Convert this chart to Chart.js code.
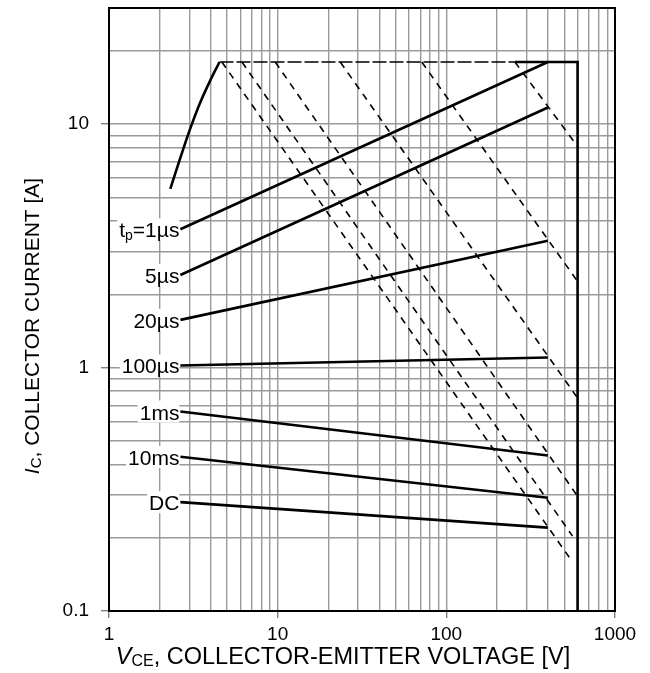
<!DOCTYPE html>
<html>
<head>
<meta charset="utf-8">
<script src="https://cdn.jsdelivr.net/npm/chart.js@4.4.1/dist/chart.umd.min.js"></script>
<style>
  html, body { margin: 0; padding: 0; background: #fff; }
  #wrap { width: 650px; height: 673px; }
</style>
</head>
<body>
<div id="wrap"><canvas id="soa"></canvas></div>
<script>
// Forward-bias safe operating area, log-log: Ic [A] against Vce [V]

const xGridValues = [1, 2, 3, 4, 5, 6, 7, 8, 9, 10, 20, 30, 40, 50, 60, 70, 80, 90,
                     100, 200, 300, 400, 500, 600, 700, 800, 900, 1000];
const yGridValues = [0.1, 0.2, 0.3, 0.4, 0.5, 0.6, 0.7, 0.8, 0.9,
                     1, 2, 3, 4, 5, 6, 7, 8, 9, 10, 20];
const xTickLabels = [1, 10, 100, 1000];
const yTickLabels = [0.1, 1, 10];

// saturation-limited rise at low Vce
const riseVoltage = [2.31, 2.65, 3.03, 3.47, 3.98, 4.52];
const riseCurrent = [5.42, 7.28, 9.58, 12.25, 15.1, 18];

// current cap (dashed part, then solid edge down the 600 V limit)
const capDashVoltage = [4.52, 255];
const capDashCurrent = [18, 18];
const edgeVoltage = [255, 600, 600];
const edgeCurrent = [18, 18, 0.1];

// pulse-width lines
const pulseLabels = ['tp=1µs', '5µs', '20µs', '100µs', '1ms', '10ms', 'DC'];
const pulseStartVoltage = 2.65;
const pulseEndVoltage = 400;
const pulseStartCurrent = [3.7, 2.4, 1.57, 1.02, 0.66, 0.43, 0.28];
const pulseEndCurrent = [18, 11.7, 3.32, 1.1, 0.435, 0.292, 0.22];

// power-limit lines: knee on the 18 A cap, tail near the voltage limit
const kneeVoltage = [4.67, 6.14, 9.67, 23.5, 71.5, 255];
const kneeCurrent = 18;
const tailVoltage = [560, 560, 600, 600, 600, 600];
const tailCurrent = [0.159, 0.203, 0.296, 0.75, 2.26, 8.1];

const FONT = "'Liberation Sans', Arial, sans-serif";
const GRID_COLOR = '#9a9a9a';

function pts(xs, ys) {
  return xs.map((x, i) => ({ x, y: ys[i] }));
}

function solid(data, smooth) {
  return { data, showLine: true, borderColor: '#000', borderWidth: 2.6,
           pointRadius: 0, fill: false, tension: smooth ? 0.4 : 0,
           cubicInterpolationMode: smooth ? 'monotone' : 'default' };
}

function dashed(data, dash) {
  return { data, showLine: true, borderColor: '#000', borderWidth: 1.6,
           borderDash: dash || [7, 6], pointRadius: 0, fill: false, tension: 0 };
}

const datasets = [];
datasets.push(solid(pts(riseVoltage, riseCurrent), true));
datasets.push(solid(pts(edgeVoltage, edgeCurrent)));
pulseLabels.forEach((_, i) => {
  datasets.push(solid([{ x: pulseStartVoltage, y: pulseStartCurrent[i] },
                       { x: pulseEndVoltage, y: pulseEndCurrent[i] }]));
});
datasets.push(dashed(pts(capDashVoltage, capDashCurrent), [14, 3]));
kneeVoltage.forEach((v, i) => {
  datasets.push(dashed([{ x: v, y: kneeCurrent }, { x: tailVoltage[i], y: tailCurrent[i] }]));
});

// draws a run of text pieces (italic / subscript) one after another
function drawRich(ctx, parts, x, y, align) {
  let total = 0;
  parts.forEach(p => {
    ctx.font = p.font;
    p.w = ctx.measureText(p.text).width;
    total += p.w;
  });
  let cx = align === 'right' ? x - total : align === 'center' ? x - total / 2 : x;
  const left = cx;
  parts.forEach(p => {
    ctx.font = p.font;
    ctx.fillText(p.text, cx, y + (p.dy || 0));
    cx += p.w;
  });
  return { left, width: total };
}

const plain = size => `${size}px ${FONT}`;
const italic = size => `italic ${size}px ${FONT}`;

const framePlugin = {
  id: 'frame',
  afterDatasetsDraw(chart) {
    const { ctx, chartArea: a } = chart;
    ctx.save();
    ctx.strokeStyle = '#000';
    ctx.lineWidth = 2;
    ctx.strokeRect(a.left, a.top, a.right - a.left, a.bottom - a.top);
    ctx.restore();
  }
};

const pulseLabelPlugin = {
  id: 'pulseLabels',
  afterDatasetsDraw(chart) {
    const { ctx, scales: { x, y } } = chart;
    ctx.save();
    ctx.textBaseline = 'alphabetic';
    pulseLabels.forEach((label, i) => {
      const px = x.getPixelForValue(pulseStartVoltage) - 1;
      const py = y.getPixelForValue(pulseStartCurrent[i]);
      let parts;
      if (label.startsWith('tp=')) {
        parts = [{ text: 't', font: plain(21) },
                 { text: 'p', font: plain(14), dy: 3 },
                 { text: label.slice(2), font: plain(21) }];
      } else {
        parts = [{ text: label, font: plain(21) }];
      }
      // measure first so the white box sits under the text
      let w = 0;
      parts.forEach(p => { ctx.font = p.font; w += ctx.measureText(p.text).width; });
      ctx.fillStyle = '#fff';
      ctx.fillRect(px - w - 2, py - 11, w + 2, 22);
      ctx.fillStyle = '#000';
      drawRich(ctx, parts, px, py + 8, 'right');
    });
    ctx.restore();
  }
};

const axisTitlePlugin = {
  id: 'axisTitles',
  afterDraw(chart) {
    const { ctx } = chart;
    ctx.save();
    ctx.fillStyle = '#000';
    ctx.textBaseline = 'alphabetic';
    drawRich(ctx, [
      { text: 'V', font: italic(23.5) },
      { text: 'CE', font: plain(16), dy: 2 },
      { text: ', COLLECTOR-EMITTER VOLTAGE [V]', font: plain(23.5) }
    ], 343, 664, 'center');

    ctx.translate(39, 326);
    ctx.rotate(-Math.PI / 2);
    drawRich(ctx, [
      { text: 'I', font: italic(21) },
      { text: 'C', font: plain(15), dy: 2 },
      { text: ', COLLECTOR CURRENT [A]', font: plain(21) }
    ], 0, 0, 'center');
    ctx.restore();
  }
};

function fixedTicks(values) {
  return scale => { scale.ticks = values.map(v => ({ value: v })); };
}

new Chart(document.getElementById('soa'), {
  type: 'scatter',
  data: { datasets },
  options: {
    responsive: true,
    maintainAspectRatio: false,
    animation: false,
    layout: { padding: { left: 0, right: 35, top: 8, bottom: 0 } },
    plugins: {
      legend: { display: false },
      tooltip: { enabled: false }
    },
    scales: {
      x: {
        type: 'logarithmic',
        min: 1,
        max: 1000,
        afterBuildTicks: fixedTicks(xGridValues),
        afterFit(scale) {
          scale.height = 62;
          scale.paddingLeft = 0;
          scale.paddingRight = 0;
        },
        border: { display: false },
        grid: {
          color: GRID_COLOR,
          lineWidth: 1.4,
          tickLength: 7,
          tickColor: ctx => xTickLabels.includes(ctx.tick && ctx.tick.value) ? '#808080' : 'rgba(0,0,0,0)'
        },
        ticks: {
          autoSkip: false,
          maxRotation: 0,
          padding: 5,
          color: '#000',
          font: { family: FONT, size: 19 },
          callback: v => xTickLabels.includes(v) ? String(v) : ''
        }
      },
      y: {
        type: 'logarithmic',
        min: 0.1,
        max: 30,
        afterBuildTicks: fixedTicks(yGridValues),
        afterFit(scale) {
          scale.width = 109;
          scale.paddingTop = 0;
          scale.paddingBottom = 0;
        },
        border: { display: false },
        grid: {
          color: GRID_COLOR,
          lineWidth: 1.4,
          tickLength: 8,
          tickColor: ctx => yTickLabels.includes(ctx.tick && ctx.tick.value) ? '#808080' : 'rgba(0,0,0,0)'
        },
        ticks: {
          autoSkip: false,
          padding: 12,
          color: '#000',
          font: { family: FONT, size: 19 },
          callback: v => yTickLabels.includes(v) ? String(v) : ''
        }
      }
    }
  },
  plugins: [framePlugin, pulseLabelPlugin, axisTitlePlugin]
});
</script>
</body>
</html>
